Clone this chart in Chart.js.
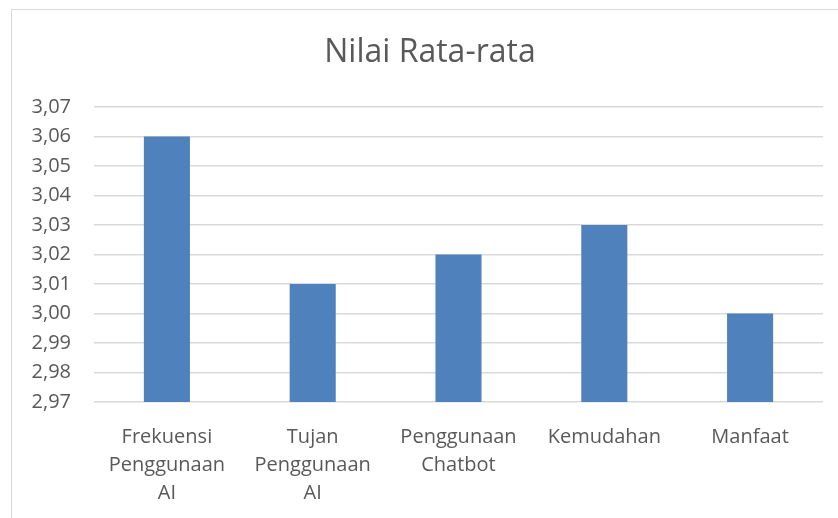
<!DOCTYPE html>
<html>
<head>
<meta charset="utf-8">
<script src="https://cdn.jsdelivr.net/npm/chart.js@4"></script>
<style>
  html, body { margin: 0; padding: 0; background: #fff; overflow: hidden; }
  #frame {
    position: absolute; left: 11px; top: 9px;
    width: 840px; height: 520px;
    border: 1px solid #d9d9d9;
  }
  #wrap { position: absolute; left: 0; top: 0; width: 826px; height: 508px; }
</style>
</head>
<body>
<div id="frame"><div id="wrap"><canvas id="myChart"></canvas></div></div>
<script>
'use strict';

const chartTitle = 'Nilai Rata-rata';
const categories = [
  ['Frekuensi', 'Penggunaan', 'AI'],
  ['Tujan', 'Penggunaan', 'AI'],
  ['Penggunaan', 'Chatbot'],
  ['Kemudahan'],
  ['Manfaat']
];
const values = [3.06, 3.01, 3.02, 3.03, 3.00];
const yMin = 2.97;
const yMax = 3.07;
const yStep = 0.01;

const textColor = '#595959';
const fontFamily = "'Open Sans', 'Liberation Sans', sans-serif";

// excel centres the title on the whole chart frame, which runs past the window
const titlePlugin = {
  id: 'frameTitle',
  afterDraw(chart) {
    const c = chart.ctx;
    c.save();
    c.fillStyle = textColor;
    c.font = '32px ' + fontFamily;
    c.textAlign = 'center';
    c.textBaseline = 'middle';
    c.fillText(chartTitle, 418, 43);
    c.restore();
  }
};

const ctx = document.getElementById('myChart').getContext('2d');

new Chart(ctx, {
  type: 'bar',
  data: {
    labels: categories,
    datasets: [{
      label: chartTitle,
      data: values,
      backgroundColor: '#4f81bd',
      borderWidth: 0,
      barPercentage: 1,
      categoryPercentage: 0.316
    }]
  },
  plugins: [titlePlugin],
  options: {
    responsive: true,
    maintainAspectRatio: false,
    animation: false,
    layout: { padding: { left: 0, right: 15, top: 97, bottom: 0 } },
    plugins: {
      legend: { display: false },
      tooltip: { enabled: false },
      title: { display: false }
    },
    scales: {
      x: {
        grid: { display: false },
        border: { display: false },
        ticks: {
          color: textColor,
          font: { family: fontFamily, size: 20, lineHeight: 1.4 },
          maxRotation: 0,
          autoSkip: false,
          padding: 13
        },
        afterFit: function (scale) { scale.height = 116; }
      },
      y: {
        min: yMin,
        max: yMax,
        grid: { color: '#d9d9d9', lineWidth: 1.5, drawTicks: false },
        border: { display: false },
        ticks: {
          stepSize: yStep,
          color: textColor,
          font: { family: fontFamily, size: 20 },
          padding: 23,
          callback: function (v) { return v.toFixed(2).replace('.', ','); }
        },
        afterFit: function (scale) { scale.width = 82; }
      }
    }
  }
});
</script>
</body>
</html>
